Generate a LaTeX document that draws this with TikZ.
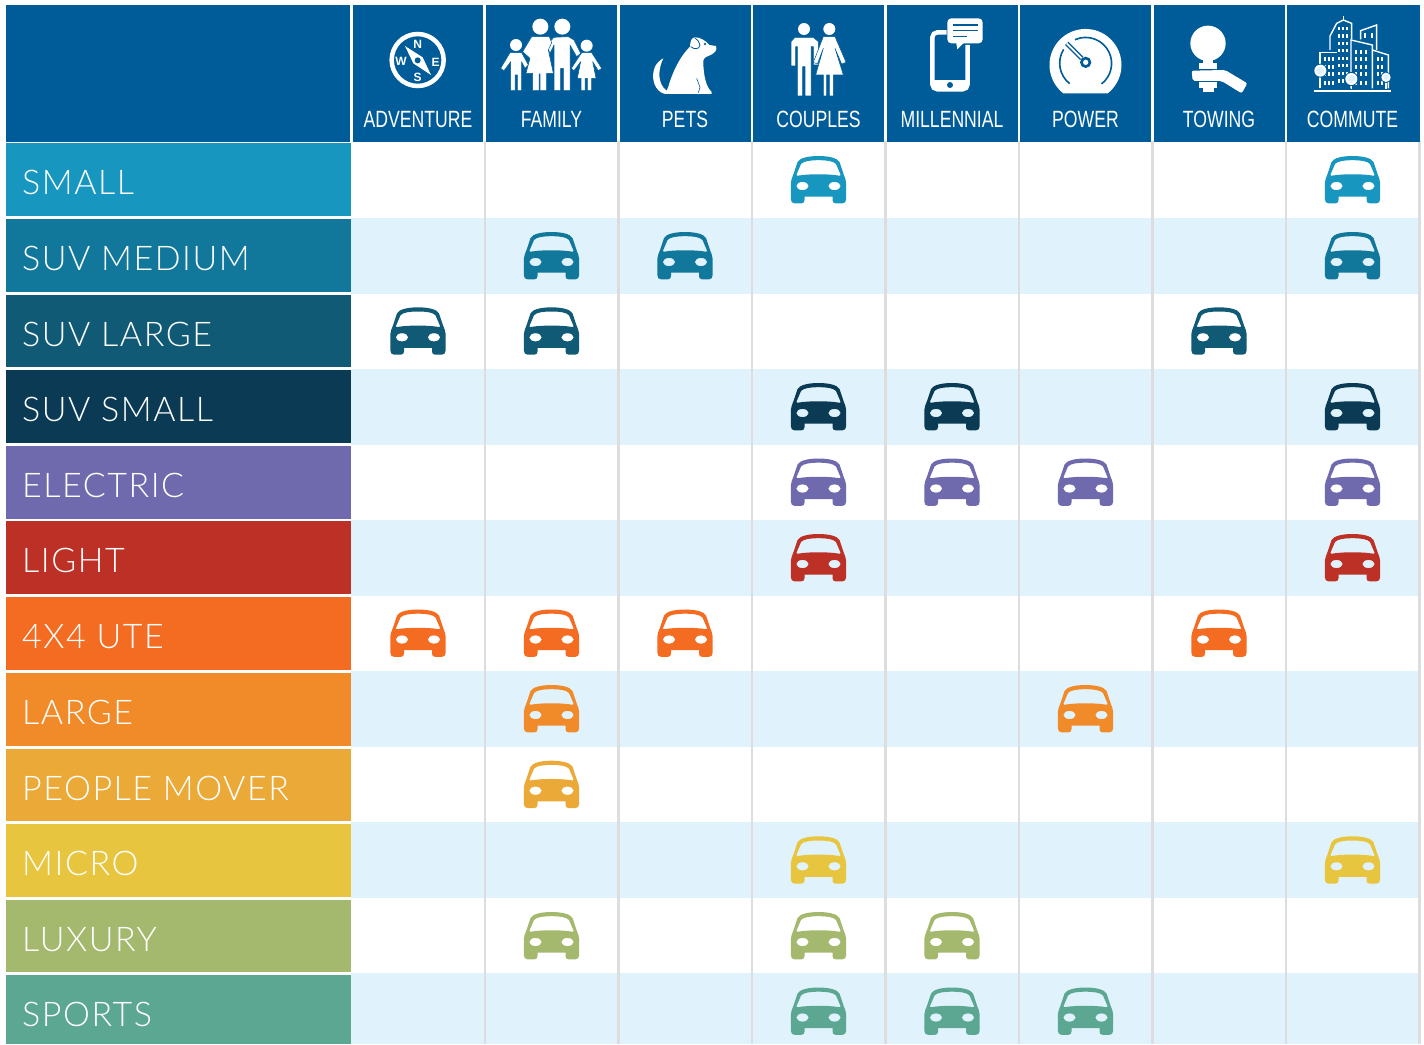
\documentclass[tikz,border=0pt]{standalone}
\usepackage{fontspec}
\setmainfont{Liberation Sans}
\newfontfamily\headfont[FakeStretch=0.75]{Liberation Sans}
\newfontfamily\rowfont[LetterSpace=4.5]{Lato Light}
\definecolor{hdr}{HTML}{005C98}
\definecolor{pale}{HTML}{E0F2FC}
\definecolor{gridc}{HTML}{DDDDDD}
\definecolor{r1}{HTML}{1797BF}
\definecolor{r2}{HTML}{11789B}
\definecolor{r3}{HTML}{105A76}
\definecolor{r4}{HTML}{0B3B54}
\definecolor{r5}{HTML}{6F69AE}
\definecolor{r6}{HTML}{BC3026}
\definecolor{r7}{HTML}{F36C21}
\definecolor{r8}{HTML}{F18A29}
\definecolor{r9}{HTML}{EBA937}
\definecolor{r10}{HTML}{E8C53E}
\definecolor{r11}{HTML}{A4B96E}
\definecolor{r12}{HTML}{5CA792}
\newcommand\drawcar[3]{%
  \fill[#3,even odd rule,shift={(#1,#2)}]
    (-27.7,27) .. controls (-27.7,24) and (-26,21) .. (-25,18)
    -- (-21,6) .. controls (-19,2) and (-10,0) .. (0,0)
    .. controls (10,0) and (19,2) .. (21,6) -- (25,18)
    .. controls (26,21) and (27.7,24) .. (27.7,27)
    -- (27.7,43) .. controls (27.7,46) and (26,47.3) .. (24,47.3)
    -- (17,47.3) .. controls (15,47.3) and (14,46) .. (14,44) -- (14,40.6)
    -- (-14,40.6) -- (-14,44) .. controls (-14,46) and (-15,47.3) .. (-17,47.3)
    -- (-24,47.3) .. controls (-26,47.3) and (-27.7,46) .. (-27.7,43) -- cycle
    (-22,18.5) -- (-17.5,8) .. controls (-15,5) and (-8,4.2) .. (0,4.2)
    .. controls (8,4.2) and (15,5) .. (17.5,8) -- (22,18.5)
    .. controls (22.5,20) and (21,20) .. (20,19.6)
    .. controls (10,17.8) and (-10,17.8) .. (-20,19.6)
    .. controls (-21,20) and (-22.5,20) .. (-22,18.5) -- cycle
    (-16,30) ellipse[x radius=6.2,y radius=4.1]
    (16,30) ellipse[x radius=6.2,y radius=4.1];}
\tikzset{
  hcell/.style={fill=hdr,draw=none},
  hlabel/.style={text=white,font=\headfont\fontsize{23.5}{24}\selectfont,anchor=base,inner sep=0pt},
  rlabel/.style={text=white,font=\rowfont\fontsize{34}{36}\selectfont,anchor=base west,inner sep=0pt},
  compassletter/.style={text=white,font=\bfseries\fontsize{12}{12}\selectfont,inner sep=0pt},
  figure/.style={fill=white,draw=hdr,line width=0.5pt,line join=round},
  zoomed/.style={shift={(#1,0)},x=0.33333pt,y=-0.33333pt},
  cityline/.style={draw=white,line width=1.4pt,line join=miter},
}
\begin{document}
\begin{tikzpicture}[x=1pt,y=-1pt]
\useasboundingbox (0,0) rectangle (1424,1044);
\fill[white] (0,0) rectangle (1424,1044);
% pale stripes
\foreach \t/\b in {218/293.5,369/444.5,520/595.5,671/746.5,822/897.5,973/1044}
  \fill[pale] (351,\t) rectangle (1419,\b);
% grid lines
\foreach \x in {485,618.5,752,885.5,1019,1152.5,1286,1419.5}
  \draw[gridc,line width=2.6pt] (\x,141) -- (\x,1044);
% header
\fill[hcell] (6,5) rectangle (350,141.5);
\foreach \a/\b/\c/\t/\n in {
 352.7/483.4/418/ADVENTURE/adventure,
 486.2/616.9/551.5/FAMILY/family,
 620/750.5/685/PETS/pets,
 753.4/884.2/818.5/COUPLES/couples,
 887/1017.7/952/MILLENNIAL/millennial,
 1020.4/1151.2/1085.5/POWER/power,
 1154/1284.8/1219/TOWING/towing,
 1287.4/1420/1352.5/COMMUTE/commute}{
  \fill[hcell] (\a,5) rectangle (\b,141.5);
  \node[hlabel] (h\n) at (\c,127) {\t};
}
% rows
\foreach \i/\t/\b/\txt in {
 1/143/216/SMALL, 2/219/291.7/SUV MEDIUM, 3/294.5/367/SUV LARGE,
 4/370/443/SUV SMALL, 5/445.5/518.5/ELECTRIC, 6/521/594/LIGHT,
 7/597/670/4X4 UTE, 8/672.5/745.5/LARGE, 9/748.5/821/PEOPLE MOVER,
 10/824/896.5/MICRO, 11/899.5/972/LUXURY, 12/975/1044/SPORTS}{
  \fill[r\i] (6,\t) rectangle (351,\b);
  \node[rlabel] (row\i) at (22,\t+51.5) {\txt};
}
% cars
\foreach \i/\y/\cols in {
 1/156/{818.5,1352.5},
 2/232/{551.5,685,1352.5},
 3/307.3/{418,551.5,1219},
 4/383/{818.5,952,1352.5},
 5/458.5/{818.5,952,1085.5,1352.5},
 6/534/{818.5,1352.5},
 7/609.5/{418,551.5,685,1219},
 8/685/{551.5,1085.5},
 9/760.7/{551.5},
 10/836.3/{818.5,1352.5},
 11/912/{551.5,818.5,952},
 12/987.5/{818.5,952,1085.5}}{
  \foreach \c in \cols { \drawcar{\c}{\y}{r\i} }
}
\begin{scope}[zoomed=350]
  % compass
  \draw[white,line width=4.5pt] (203,180) circle (78);
  \fill[white] (165,138) -- (218,172) -- (243,225) -- (190,190) -- cycle;
  \fill[hdr] (203,181) circle (9);
  \node[compassletter] (cn) at (203,132) {N};
  \node[compassletter] (cs) at (203,232) {S};
  \node[compassletter] (cw) at (153,185) {W};
  \node[compassletter] (ce) at (257,187) {E};
  % family
  \path[figure] (480,158) -- (515,158) -- (535,195) -- (525,205) -- (515,185) -- (515,272) -- (502,272) -- (502,225) -- (495,225) -- (495,272) -- (482,272) -- (482,185) -- (462,212) -- (452,205) -- cycle;
  \path[figure] (695,158) -- (725,158) -- (755,205) -- (745,212) -- (728,185) -- (738,235) -- (725,235) -- (725,272) -- (712,272) -- (712,235) -- (705,235) -- (705,272) -- (693,272) -- (693,235) -- (682,235) -- (692,185) -- (672,212) -- (664,205) -- cycle;
  \path[figure] (612,112) -- (655,110) -- (672,120) -- (692,160) -- (680,170) -- (660,135) -- (660,272) -- (640,272) -- (640,205) -- (632,205) -- (632,272) -- (612,272) -- (612,135) -- (600,160) -- (590,135) -- cycle;
  \path[figure] (545,110) -- (598,110) -- (605,128) -- (595,150) -- (610,220) -- (590,220) -- (590,272) -- (570,272) -- (570,222) -- (567,222) -- (567,272) -- (548,272) -- (548,220) -- (528,220) -- (540,175) -- (518,155) -- cycle;
  \fill[white] (571,80) circle (24) (637,80) circle (24) (498,135) circle (18) (710,137) circle (18);
  % pets
  \fill[white] (940,175) .. controls (925,205) and (920,250) .. (950,272) -- (955,260)
     .. controls (965,225) and (985,175) .. (1020,140)
     .. controls (1020,125) and (1025,112) .. (1035,112)
     .. controls (1050,112) and (1065,120) .. (1078,135) -- (1098,138)
     .. controls (1103,150) and (1095,160) .. (1075,168)
     .. controls (1062,172) and (1058,178) .. (1060,195)
     .. controls (1062,230) and (1068,260) .. (1085,276) -- (1085,282) -- (945,282)
     .. controls (915,275) and (900,235) .. (915,200) .. controls (920,190) and (930,180) .. (940,175) -- cycle;
  \draw[hdr,line width=0.8pt] (1022,140) .. controls (1035,150) and (1048,148) .. (1050,135) .. controls (1048,125) and (1042,118) .. (1035,114);
  \draw[hdr,line width=0.5pt] (1065,132) circle (3);
  \draw[hdr,line width=0.6pt] (1040,235) -- (1050,262) -- (1045,278);
\end{scope}
\begin{scope}[zoomed=750]
  % couples
  \path[figure] (135,112) -- (190,112) -- (205,125) -- (205,195) -- (190,195) -- (190,140) -- (183,140) -- (183,288) -- (165,288) -- (165,200) -- (158,200) -- (158,288) -- (142,288) -- (142,140) -- (137,140) -- (137,198) -- (123,198) -- (123,125) -- cycle;
  \path[figure] (220,110) -- (255,110) -- (288,187) -- (275,192) -- (255,145) -- (280,225) -- (250,225) -- (250,288) -- (238,288) -- (238,225) -- (230,225) -- (230,288) -- (220,288) -- (220,225) -- (197,225) -- (220,145) -- (202,192) -- (190,187) -- cycle;
  \fill[white] (162,87) circle (18) (238,87) circle (18);
  % phone
  \draw[white,line width=4.4pt,rounded corners=5pt] (590,97) -- (547,97) -- (547,268) -- (653,268) -- (653,135);
  \fill[white] (547,240) rectangle (653,268);
  \fill[hdr] (600,255) circle (9);
  \fill[white,rounded corners=4pt] (592,55) rectangle (698,130);
  \fill[white] (618,125) -- (622,148) -- (642,128) -- cycle;
  \draw[hdr,line width=1.5pt] (610,75) -- (683,75) (610,92) -- (683,92) (610,110) -- (650,110);
  % gauge
  \fill[white] (940,280) arc[start angle=128,end angle=412,radius=108] -- cycle;
  \draw[hdr,line width=1.6pt] (959,251) arc[start angle=128,end angle=212,radius=78];
  \draw[hdr,line width=1.6pt] (975,119) arc[start angle=246,end angle=412,radius=78];
  \draw[hdr,line width=4.5pt] (950,130) -- (995,175);
  \draw[white,line width=1.8pt] (950,130) -- (995,175);
  \fill[hdr] (1007,187) circle (17);
  \fill[white] (1007,187) circle (8);
\end{scope}
\begin{scope}[zoomed=1150]
  % towing
  \fill[white] (174,130) circle (53);
  \fill[white] (160,175) rectangle (190,195);
  \fill[white] (147,190) rectangle (200,207);
  \fill[white,rounded corners=2pt] (125,212) -- (225,210) -- (292,250) -- (275,280) -- (215,243) -- (128,243) -- cycle;
  \fill[white] (147,246) rectangle (200,265);
  \fill[white] (160,265) rectangle (193,275);
  % commute
  \draw[cityline] (510,265) -- (510,157) -- (560,157);
  \draw[cityline] (540,150) -- (540,108) -- (560,70) -- (580,60) -- (605,70) -- (605,118);
  \draw[cityline] (580,60) -- (580,48);
  \draw[cityline] (603,265) -- (603,120) -- (667,135) -- (667,265);
  \draw[cityline] (632,118) -- (632,92) -- (680,75) -- (680,150);
  \draw[cityline] (667,150) -- (715,165) -- (715,265);
  \draw[white,line width=2pt] (492,273) -- (722,273);
  \foreach \x in {568,580,592} \foreach \y in {85,108,130,152,175,197,220,243}
    \fill[white] (\x-3,\y-5) rectangle (\x+3,\y+5);
  \foreach \x in {525,537,549} \foreach \y in {178,200,222,250}
    \fill[white] (\x-3,\y-6) rectangle (\x+3,\y+6);
  \foreach \x in {617,632,648} \foreach \y in {155,178,200,222,250}
    \fill[white] (\x-3,\y-6) rectangle (\x+3,\y+6);
  \foreach \x in {683,697} \foreach \y in {178,200,222,250}
    \fill[white] (\x-3,\y-6) rectangle (\x+3,\y+6);
  \foreach \x in {645,665} \fill[white] (\x-3,100) rectangle (\x+3,115);
  \foreach \c/\d/\r/\s in {511/212/18/265, 604/237/18/268, 708/232/14/268}{
    \draw[white,line width=1.4pt] (\c,\d+\r) -- (\c,\s);
    \fill[hdr] (\c,\d) circle (\r+3);
    \fill[white] (\c,\d) circle (\r);
    \fill[pale] (\c,\d) circle (\r-6);
  }
\end{scope}
\end{tikzpicture}
\end{document}
